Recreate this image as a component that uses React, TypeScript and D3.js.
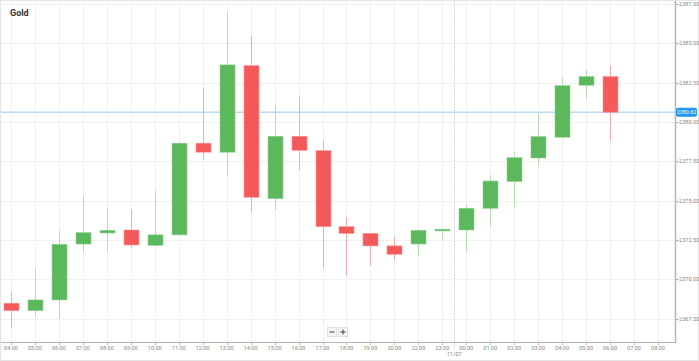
import React from "react";
import * as d3 from "d3";

const times = ["04:00","05:00","06:00","07:00","08:00","09:00","10:00","11:00","12:00","13:00","14:00","15:00","16:00","17:00","18:00","19:00","20:00","22:00","23:00","00:00","01:00","02:00","03:00","04:00","05:00","06:00","07:00","08:00"];
const opens = [2368.49, 2368.02, 2368.70, 2372.25, 2372.95, 2373.14, 2372.17, 2372.83, 2378.65, 2378.08, 2383.57, 2375.13, 2379.09, 2378.18, 2373.35, 2372.93, 2372.13, 2372.25, 2373.08, 2373.14, 2374.52, 2376.22, 2377.71, 2379.03, 2382.33, 2382.88];
const closes = [2368.02, 2368.70, 2372.23, 2372.97, 2373.12, 2372.19, 2372.83, 2378.65, 2378.08, 2383.62, 2375.22, 2379.09, 2378.20, 2373.35, 2372.93, 2372.13, 2371.60, 2373.12, 2373.19, 2374.52, 2376.25, 2377.73, 2379.07, 2382.30, 2382.88, 2380.62];
const highs = [2369.19, 2370.67, 2373.08, 2375.32, 2374.56, 2374.48, 2375.62, 2378.70, 2382.18, 2386.97, 2385.46, 2381.06, 2381.61, 2378.81, 2373.95, 2372.95, 2372.72, 2373.19, 2373.22, 2374.73, 2376.63, 2378.11, 2380.51, 2382.77, 2383.30, 2383.57];
const lows = [2366.94, 2367.64, 2367.49, 2371.75, 2371.79, 2372.02, 2372.11, 2372.80, 2377.59, 2376.57, 2374.27, 2374.41, 2376.95, 2370.75, 2370.24, 2370.88, 2371.22, 2371.51, 2372.55, 2371.77, 2373.35, 2374.62, 2377.21, 2379.00, 2381.50, 2378.81];
const yTicks = [2367.5, 2370, 2372.5, 2375, 2377.5, 2380, 2382.5, 2385, 2387.5];
const currentPrice = 2380.62;
const dateBreakIndex = 19; // first candle of 11/07
const dateLabel = "11/07";
const title = "Gold";

const W = 699, H = 361;
const plotRight = 675, plotBottom = 342;

export default function App() {
  const x = d3.scaleBand<number>().domain(d3.range(times.length)).range([-1, 670]).paddingInner(0);
  const y = d3.scaleLinear().domain([2366.03, 2387.74]).range([plotBottom, 0]);
  const cx = (i: number) => (x(i) as number) + x.bandwidth() / 2;
  const bw = 15;
  const font = "Roboto, 'Noto Sans', sans-serif";
  const fmt = d3.format(".2f");
  const breakX = (cx(dateBreakIndex - 1) + cx(dateBreakIndex)) / 2;
  const py = y(currentPrice);

  return (
    <svg width={W} height={H} style={{ position: "absolute", left: 0, top: 0, background: "#fff" }} fontFamily={font}>
      <rect x={0.5} y={0.5} width={W - 1} height={H - 1} fill="#fff" stroke="#e4e4e4" />
      {/* grid */}
      {times.map((t, i) => (
        <line key={"vg" + i} x1={Math.round(cx(i)) + 0.5} x2={Math.round(cx(i)) + 0.5} y1={1} y2={plotBottom} stroke="#f1f1f1" />
      ))}
      {yTicks.map((v) => (
        <line key={"hg" + v} x1={1} x2={plotRight} y1={Math.round(y(v)) + 0.5} y2={Math.round(y(v)) + 0.5} stroke="#f1f1f1" />
      ))}
      {/* date separator */}
      <line x1={Math.round(breakX) + 0.5} x2={Math.round(breakX) + 0.5} y1={1} y2={plotBottom + 6} stroke="#d8d8d8" strokeDasharray="2,1" />
      {/* current price line */}
      <line x1={1} x2={plotRight} y1={py} y2={py} stroke="#b9dcf6" strokeWidth={1.5} />
      {/* candles */}
      {opens.map((o, i) => {
        const c = closes[i];
        const up = c >= o;
        const body = up ? "#5cb85c" : "#f55a5a";
        const wick = up ? "#b3dcb3" : "#f7a9a9";
        const xc = Math.round(cx(i)) + 0.5;
        const top = y(Math.max(o, c));
        const h = Math.max(1.5, Math.abs(y(o) - y(c)));
        return (
          <g key={"c" + i}>
            <line x1={xc} x2={xc} y1={y(highs[i])} y2={y(lows[i])} stroke={wick} strokeWidth={1} />
            <rect x={xc - bw / 2} y={top} width={bw} height={h} fill={body} stroke={up ? "#8fcf8f" : "#fb9090"} strokeWidth={0.6} />
          </g>
        );
      })}
      {/* axes */}
      <line x1={plotRight + 0.5} x2={plotRight + 0.5} y1={1} y2={plotBottom + 0.5} stroke="#b5b5b5" strokeWidth={1.5} />
      <line x1={1} x2={plotRight + 1} y1={plotBottom + 0.5} y2={plotBottom + 0.5} stroke="#b5b5b5" strokeWidth={1.2} />
      {yTicks.map((v) => (
        <g key={"yt" + v}>
          <line x1={plotRight + 1} x2={plotRight + 4} y1={Math.round(y(v)) + 0.5} y2={Math.round(y(v)) + 0.5} stroke="#b5b5b5" />
          <text x={679} y={y(v)} dy="0.35em" fontSize={5.6} fill="#888">{fmt(v)}</text>
        </g>
      ))}
      {times.map((t, i) => (
        <g key={"xt" + i}>
          <line x1={Math.round(cx(i)) + 0.5} x2={Math.round(cx(i)) + 0.5} y1={plotBottom} y2={plotBottom + 3} stroke="#b5b5b5" />
          <text x={cx(i)} y={350} textAnchor="middle" fontSize={5.6} fill="#888">{t}</text>
        </g>
      ))}
      <text x={breakX} y={356} textAnchor="middle" fontSize={5.6} fill="#888">{dateLabel}</text>
      {/* current price label */}
      <rect x={676} y={py - 4.5} width={21} height={9} rx={2} fill="#2196f3" />
      <text x={686.5} y={py} dy="0.35em" textAnchor="middle" fontSize={5.4} fill="#fff">{fmt(currentPrice)}</text>
      {/* title */}
      <text x={10} y={16} fontSize={9} fontWeight="bold" fill="#333">{title}</text>
      {/* zoom buttons */}
      <rect x={327.5} y={327.5} width={9} height={9} fill="#f3f3f3" stroke="#e0e0e0" />
      <rect x={338.5} y={327.5} width={9} height={9} fill="#f3f3f3" stroke="#e0e0e0" />
      <line x1={329.5} x2={334.5} y1={332} y2={332} stroke="#444" strokeWidth={1} />
      <line x1={340.5} x2={345.5} y1={332} y2={332} stroke="#444" strokeWidth={1} />
      <line x1={343} x2={343} y1={329.5} y2={334.5} stroke="#444" strokeWidth={1} />
    </svg>
  );
}
